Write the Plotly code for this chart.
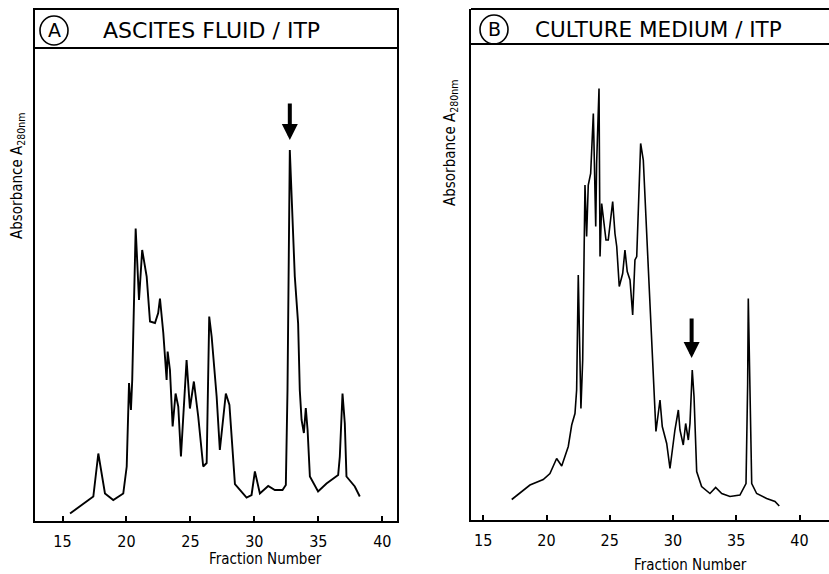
import plotly.graph_objects as go

W, H = 829, 574

# ---- data (fraction number, absorbance A280 in arbitrary units) ----
fraction_a = [15.59, 17.41, 17.80, 18.32, 18.97, 19.75, 20.02, 20.20, 20.35, 20.45,
              20.72, 20.98, 21.23, 21.58, 21.84, 22.23, 22.48, 22.62, 22.88, 23.14,
              23.22, 23.40, 23.61, 23.84, 24.05, 24.26, 24.70, 24.96, 25.27, 25.61,
              26.00, 26.27, 26.47, 26.66, 27.05, 27.30, 27.77, 28.05, 28.48, 29.39,
              29.78, 30.04, 30.43, 31.08, 31.60, 32.20, 32.46, 32.59, 32.77, 32.90,
              33.16, 33.42, 33.55, 33.69, 33.87, 34.02, 34.16, 34.34, 34.98, 35.64,
              36.55, 36.68, 36.89, 37.07, 37.20, 37.85, 38.24]
absorb_a = [0.015, 0.049, 0.135, 0.055, 0.042, 0.055, 0.109, 0.276, 0.222, 0.282,
            0.585, 0.442, 0.542, 0.489, 0.399, 0.396, 0.416, 0.445, 0.376, 0.282,
            0.339, 0.302, 0.189, 0.255, 0.229, 0.129, 0.322, 0.225, 0.279, 0.209,
            0.109, 0.116, 0.409, 0.369, 0.249, 0.142, 0.255, 0.232, 0.074, 0.047,
            0.052, 0.099, 0.055, 0.070, 0.062, 0.062, 0.072, 0.262, 0.742, 0.662,
            0.489, 0.395, 0.262, 0.202, 0.176, 0.226, 0.182, 0.089, 0.059, 0.075,
            0.092, 0.129, 0.255, 0.195, 0.089, 0.069, 0.049]

fraction_b = [17.25, 18.69, 19.74, 20.27, 20.80, 21.20, 21.72, 21.99, 22.25, 22.38,
              22.51, 22.64, 22.72, 22.86, 23.04, 23.17, 23.30, 23.49, 23.70, 23.89,
              23.96, 24.15, 24.23, 24.36, 24.49, 24.70, 24.88, 25.23, 25.41, 25.55,
              25.75, 26.02, 26.20, 26.38, 26.60, 26.81, 26.99, 27.13, 27.44, 27.65,
              28.04, 28.44, 28.65, 28.97, 29.15, 29.50, 29.76, 30.15, 30.42, 30.55,
              30.81, 31.00, 31.21, 31.34, 31.52, 31.66, 31.87, 32.26, 32.92, 33.37,
              33.85, 34.50, 35.29, 35.77, 35.90, 35.95, 36.08, 36.22, 36.61, 37.40,
              38.06, 38.40]
absorb_b = [0.041, 0.070, 0.081, 0.093, 0.123, 0.108, 0.147, 0.190, 0.213, 0.260,
            0.490, 0.320, 0.223, 0.320, 0.670, 0.567, 0.670, 0.693, 0.813, 0.587,
            0.713, 0.863, 0.527, 0.633, 0.607, 0.560, 0.560, 0.637, 0.573, 0.547,
            0.467, 0.493, 0.540, 0.497, 0.480, 0.410, 0.520, 0.527, 0.753, 0.720,
            0.507, 0.287, 0.177, 0.240, 0.187, 0.153, 0.103, 0.180, 0.220, 0.180,
            0.150, 0.193, 0.160, 0.193, 0.300, 0.247, 0.097, 0.067, 0.053, 0.065,
            0.053, 0.047, 0.050, 0.073, 0.273, 0.443, 0.273, 0.073, 0.053, 0.043,
            0.037, 0.028]

tick_vals = [15, 20, 25, 30, 35, 40]
tick_text = ["15", "20", "25", "30", "35", "40"]

# marked peaks (arrow targets): fraction, absorbance of arrow tip, absorbance of arrow tail
arrow_a = (32.77, 0.762, 0.838)
arrow_b = (31.47, 0.324, 0.406)

titles = ["ASCITES FLUID / ITP", "CULTURE MEDIUM / ITP"]
letters = ["A", "B"]
y_title = "Absorbance A<sub>280nm</sub>"
x_title = "Fraction Number"


def px(x):
    return x / W


def py(y):
    return 1 - y / H


fig = go.Figure()
fig.add_trace(go.Scatter(x=fraction_a, y=absorb_a, mode="lines",
                         line=dict(color="black", width=1.9),
                         xaxis="x", yaxis="y", hoverinfo="skip"))
fig.add_trace(go.Scatter(x=fraction_b, y=absorb_b, mode="lines",
                         line=dict(color="black", width=1.6),
                         xaxis="x2", yaxis="y2", hoverinfo="skip"))

tickfont = dict(family="Liberation Sans Narrow, DejaVu Sans Condensed, sans-serif", size=16, color="black")
xcommon = dict(tickvals=tick_vals, ticktext=tick_text, ticks="inside", ticklen=5,
               tickwidth=1.5, tickcolor="black", showline=True, linecolor="black",
               linewidth=2, showgrid=False, zeroline=False, tickfont=tickfont,
               ticklabelstandoff=5, fixedrange=True)
ycommon = dict(showline=True, linecolor="black", linewidth=2, showticklabels=False,
               ticks="", showgrid=False, zeroline=False, range=[0, 1.022], fixedrange=True)

fig.update_layout(
    width=W, height=H, margin=dict(l=0, r=0, t=0, b=0),
    paper_bgcolor="white", plot_bgcolor="white", showlegend=False,
    xaxis=dict(domain=[px(35), px(397)], range=[12.85, 41.15], mirror=True, anchor="y", **xcommon),
    yaxis=dict(domain=[py(521), py(10)], mirror=True, anchor="x", **ycommon),
    xaxis2=dict(domain=[px(471), 1], range=[14.03, 42.33], mirror=False, anchor="y2", **xcommon),
    yaxis2=dict(domain=[py(520), py(9)], mirror=False, anchor="x2", **ycommon),
)

shapes = [
    dict(type="line", xref="paper", yref="paper", x0=px(35), x1=px(397), y0=py(48), y1=py(48),
         line=dict(color="black", width=1.8)),
    dict(type="line", xref="paper", yref="paper", x0=px(471), x1=1, y0=py(9), y1=py(9),
         line=dict(color="black", width=2)),
    dict(type="line", xref="paper", yref="paper", x0=px(471), x1=1, y0=py(44), y1=py(44),
         line=dict(color="black", width=1.8)),
    dict(type="circle", xref="paper", yref="paper", x0=px(40), x1=px(68), y0=py(45), y1=py(16),
         line=dict(color="black", width=1.6)),
    dict(type="circle", xref="paper", yref="paper", x0=px(480), x1=px(508), y0=py(44), y1=py(15),
         line=dict(color="black", width=1.6)),
]
fig.update_layout(shapes=shapes)

label_font = dict(family="DejaVu Sans Condensed, DejaVu Sans, sans-serif", size=15, color="black")

ann = [
    dict(text=titles[0], x=px(211), y=py(30), xref="paper", yref="paper", showarrow=False,
         font=dict(family="DejaVu Sans, sans-serif", size=22, color="black"),
         xanchor="center", yanchor="middle"),
    dict(text=titles[1], x=px(658), y=py(29), xref="paper", yref="paper", showarrow=False,
         font=dict(family="DejaVu Sans, sans-serif", size=21.5, color="black"),
         xanchor="center", yanchor="middle"),
    dict(text=letters[0], x=px(54), y=py(30.5), xref="paper", yref="paper", showarrow=False,
         font=dict(family="DejaVu Sans, sans-serif", size=19, color="black"), xanchor="center", yanchor="middle"),
    dict(text=letters[1], x=px(494), y=py(29.5), xref="paper", yref="paper", showarrow=False,
         font=dict(family="DejaVu Sans, sans-serif", size=19, color="black"), xanchor="center", yanchor="middle"),
    dict(text=y_title, x=px(18), y=py(176), xref="paper", yref="paper", showarrow=False,
         font=label_font, textangle=-90, xanchor="center", yanchor="middle"),
    dict(text=y_title, x=px(450), y=py(143), xref="paper", yref="paper", showarrow=False,
         font=label_font, textangle=-90, xanchor="center", yanchor="middle"),
    dict(text=x_title, x=px(265), y=py(559), xref="paper", yref="paper", showarrow=False,
         font=label_font, xanchor="center", yanchor="middle"),
    dict(text=x_title, x=px(690), y=py(565), xref="paper", yref="paper", showarrow=False,
         font=label_font, xanchor="center", yanchor="middle"),
    dict(text="", x=arrow_a[0], y=arrow_a[1], ax=arrow_a[0], ay=arrow_a[2], xref="x", yref="y",
         axref="x", ayref="y", showarrow=True, arrowhead=2, arrowsize=0.8, arrowwidth=4,
         arrowcolor="black", standoff=0),
    dict(text="", x=arrow_b[0], y=arrow_b[1], ax=arrow_b[0], ay=arrow_b[2], xref="x2", yref="y2",
         axref="x2", ayref="y2", showarrow=True, arrowhead=2, arrowsize=0.8, arrowwidth=4,
         arrowcolor="black", standoff=0),
]
fig.update_layout(annotations=ann)

fig.write_html("out.html", config={"displayModeBar": False},
               post_script="document.body.style.margin='0';document.body.style.overflow='hidden';")
